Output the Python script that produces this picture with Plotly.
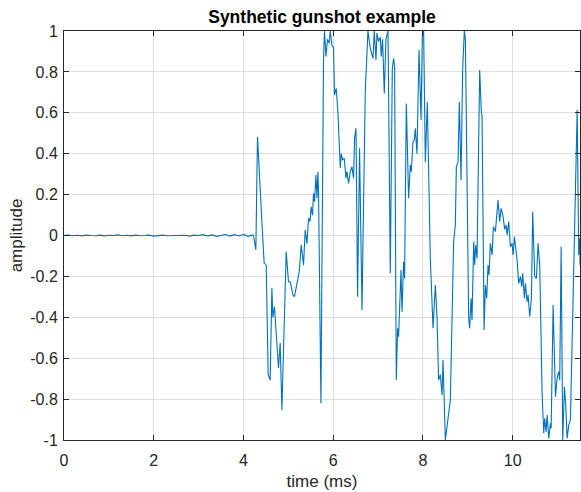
import plotly.graph_objects as go

# quiet pre-trigger section (ms, amplitude)
t_quiet = [round(0.1 * i, 1) for i in range(43)]
a_quiet = [0.000, 0.002, -0.001, 0.001, -0.002, 0.002, 0.000, -0.001, 0.002, -0.002,
           0.001, 0.000, 0.003, -0.001, 0.001, -0.002, 0.002, -0.001, 0.000, 0.002,
           -0.003, 0.001, 0.002, -0.001, 0.000, -0.002, 0.002, 0.001, -0.003, 0.002,
           0.000, 0.004, -0.002, 0.003, -0.004, 0.002, 0.005, -0.003, 0.004, -0.002,
           0.006, -0.004, 0.003]

# gunshot event section
t_event = [4.223, 4.276, 4.312, 4.350, 4.410, 4.461, 4.506, 4.551, 4.595, 4.633,
           4.655, 4.691, 4.745, 4.780, 4.818, 4.856, 4.952, 5.003, 5.041, 5.102,
           5.137, 5.191, 5.242, 5.287, 5.338, 5.376, 5.414, 5.450, 5.481, 5.510,
           5.539, 5.561, 5.583, 5.615, 5.637, 5.659, 5.673, 5.726, 5.784, 5.806,
           5.838, 5.873, 5.911, 5.934, 5.971, 6.007, 6.029, 6.067, 6.105, 6.157,
           6.179, 6.208, 6.246, 6.284, 6.306, 6.342, 6.380, 6.418, 6.453, 6.476,
           6.507, 6.543, 6.587, 6.641, 6.714, 6.774, 6.826, 6.886, 6.915, 6.953,
           6.975, 7.011, 7.049, 7.071, 7.100, 7.138, 7.176, 7.221, 7.272, 7.317,
           7.346, 7.368, 7.406, 7.435, 7.457, 7.511, 7.533, 7.569, 7.591, 7.629,
           7.680, 7.718, 7.740, 7.778, 7.807, 7.830, 7.867, 7.912, 7.957, 7.986,
           8.015, 8.053, 8.097, 8.164, 8.225, 8.276, 8.314, 8.349, 8.387, 8.425,
           8.447, 8.499, 8.610, 8.684, 8.722, 8.744, 8.782, 8.811, 8.849, 8.885,
           8.922, 8.945, 9.019, 9.041, 9.072, 9.094, 9.130, 9.152, 9.175, 9.206,
           9.264, 9.302, 9.317, 9.362, 9.391, 9.420, 9.451, 9.473, 9.502, 9.540,
           9.569, 9.614, 9.636, 9.674, 9.710, 9.741, 9.786, 9.822, 9.853, 9.875,
           9.911, 9.949, 9.987, 10.009, 10.038, 10.098, 10.134, 10.172, 10.201, 10.223,
           10.261, 10.283, 10.321, 10.343, 10.379, 10.417, 10.446, 10.491, 10.529, 10.566,
           10.602, 10.656, 10.692, 10.714, 10.745, 10.768, 10.803, 10.841, 10.857, 10.901,
           10.953, 10.990, 11.026, 11.048, 11.080, 11.115, 11.153, 11.182, 11.213, 11.249,
           11.287, 11.347, 11.399, 11.437, 11.472, 11.495, 11.500]
a_event = [0.000, -0.070, 0.483, 0.345, 0.070, -0.135, -0.144, -0.680, -0.707, -0.257,
           -0.400, -0.348, -0.550, -0.648, -0.526, -0.853, -0.079, -0.226, -0.226, -0.291,
           -0.299, -0.232, -0.177, -0.046, -0.144, 0.027, -0.040, 0.085, 0.068, 0.140,
           0.100, 0.206, 0.165, 0.296, 0.182, 0.312, 0.214, -0.820, 0.866, 1.000,
           0.875, 0.960, 0.940, 1.000, 0.930, 0.920, 0.687, 0.720, 0.600, 0.330,
           0.400, 0.370, 0.377, 0.280, 0.312, 0.255, 0.312, 0.336, 0.280, 0.475,
           0.524, -0.300, 0.426, -0.364, 0.703, 1.000, 0.915, 0.866, 1.000, 0.858,
           0.990, 0.948, 0.970, 0.875, 0.960, 0.695, 0.960, 1.000, -0.185, 0.817,
           0.866, 0.825, -0.707, -0.454, -0.495, -0.169, -0.373, -0.128, -0.210, 0.646,
           0.182, 0.345, 0.312, 0.459, 0.467, 0.524, 0.400, 0.907, 0.565, 0.980,
           1.000, 0.360, 0.654, -0.112, -0.454, -0.242, -0.405, -0.707, -0.680, -0.780,
           -0.609, -1.000, -0.804, -0.030, 0.051, 0.336, 0.360, 0.654, 0.271, 0.817,
           1.000, 0.960, -0.405, -0.454, -0.307, -0.413, -0.030, -0.144, -0.046, -0.112,
           0.809, 0.600, 0.590, -0.462, -0.242, -0.307, -0.144, -0.193, -0.038, -0.095,
           0.043, 0.019, 0.068, 0.174, 0.068, 0.133, 0.092, 0.030, 0.051, 0.002,
           0.068, -0.055, -0.038, -0.095, -0.006, -0.120, -0.234, -0.201, -0.250, -0.185,
           -0.307, -0.234, -0.324, -0.291, -0.397, -0.307, 0.116, -0.201, -0.210, -0.038,
           -0.144, -0.780, -0.967, -0.894, -0.960, -0.878, -0.992, -0.918, -0.943, -0.340,
           -0.788, -0.698, -0.666, -0.707, -0.055, -1.000, -0.740, -0.829, -0.992, -0.927,
           -0.902, -0.234, 0.214, 0.614, -0.095, -0.014, -0.144]

x_ticks = [0, 2, 4, 6, 8, 10]
x_tick_labels = ["0", "2", "4", "6", "8", "10"]
y_ticks = [-1, -0.8, -0.6, -0.4, -0.2, 0, 0.2, 0.4, 0.6, 0.8, 1]
y_tick_labels = ["-1", "-0.8", "-0.6", "-0.4", "-0.2", "0", "0.2", "0.4", "0.6", "0.8", "1"]

t = t_quiet + t_event
a = a_quiet + a_event

FONT = "Arial, 'Liberation Sans', Helvetica, sans-serif"
AX = "#262626"
GRID = "rgba(38,38,38,0.15)"

fig = go.Figure()
fig.add_trace(go.Scatter(x=t, y=a, mode="lines",
                         line=dict(color="#0072BD", width=1.1),
                         showlegend=False))

fig.update_layout(
    width=581, height=492,
    margin=dict(l=64, r=1, t=31, b=52),
    paper_bgcolor="white", plot_bgcolor="white",
    font=dict(family=FONT, color=AX, size=16),
    title=dict(text="<b>Synthetic gunshot example</b>", x=0.5, xref="paper",
               xanchor="center", y=1 - 17 / 492, yref="container", yanchor="middle",
               font=dict(family=FONT, size=17.5, color="black")),
)
fig.update_xaxes(range=[0, 11.5], tickvals=x_ticks, ticktext=x_tick_labels,
                 showgrid=True, gridcolor=GRID, gridwidth=1, zeroline=False,
                 showline=True, linecolor=AX, linewidth=1, mirror="ticks",
                 ticks="inside", ticklen=5, tickcolor=AX, tickfont=dict(size=16),
                 ticklabelstandoff=6, automargin=False,
                 title=dict(text="time (ms)", font=dict(size=17), standoff=6))
fig.update_yaxes(range=[-1, 1], tickvals=y_ticks, ticktext=y_tick_labels,
                 showgrid=True, gridcolor=GRID, gridwidth=1, zeroline=False,
                 showline=True, linecolor=AX, linewidth=1, mirror="ticks",
                 ticks="inside", ticklen=5, tickcolor=AX, tickfont=dict(size=16),
                 ticklabelstandoff=2, automargin=False,
                 title=dict(text="amplitude", font=dict(size=17), standoff=3))

fig.write_html("out.html",
               config={"displayModeBar": False},
               post_script="document.body.style.margin='0';"
                           "document.body.style.overflow='hidden';")
